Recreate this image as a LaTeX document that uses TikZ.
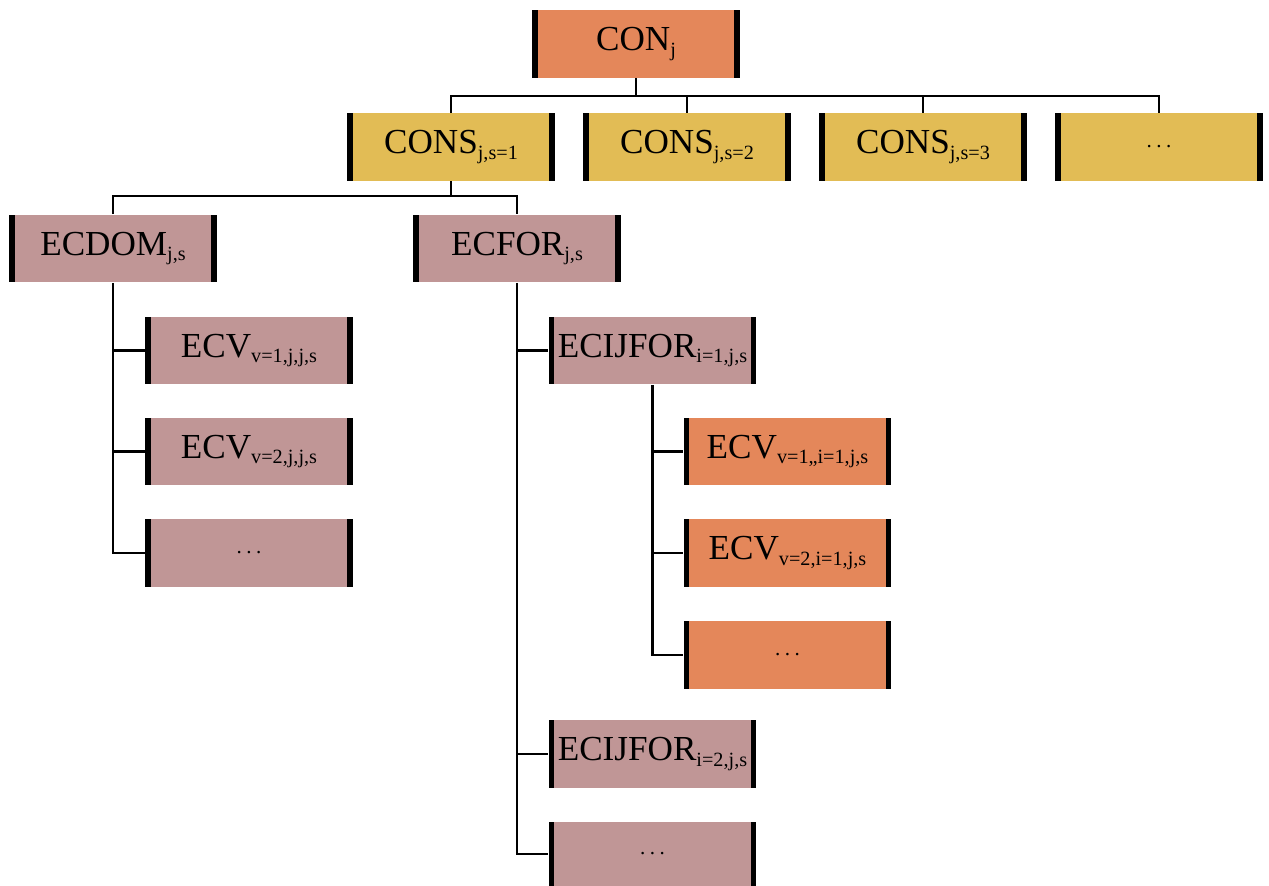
\documentclass[tikz,border=0pt]{standalone}
\usepackage{fontspec}
\setmainfont{Liberation Serif}
\newcommand{\lsub}[1]{\raisebox{-3pt}{\fontsize{11.5}{12}\selectfont #1}}
\newcommand{\mydots}{\raisebox{-1pt}{\fontsize{12}{12}\selectfont .\hspace{2.5pt}.\hspace{2.5pt}.}}
\definecolor{corange}{HTML}{E4875A}
\definecolor{cgold}{HTML}{E2BC55}
\definecolor{cmauve}{HTML}{C09696}
\begin{document}
\begin{tikzpicture}[x=0.02cm,y=-0.02cm,
  box/.style={rectangle, inner sep=0pt, minimum width=4.16cm, minimum height=1.36cm,
    font=\fontsize{20}{24}\selectfont,
    path picture={
      \fill[black] (path picture bounding box.north west) rectangle ([xshift=0.11cm]path picture bounding box.south west);
      \fill[black] ([xshift=-0.11cm]path picture bounding box.north east) rectangle (path picture bounding box.south east);
    }},
  obox/.style={box, fill=corange},
  gbox/.style={box, fill=cgold},
  mbox/.style={box, fill=cmauve},
  conn/.style={line width=1.3pt, black}]
\useasboundingbox (0,0) rectangle (1269,886);

\node[obox] (con) at (636,44) {CON\lsub{j}};

\node[gbox] (cons1) at (451,147) {CONS\lsub{j,s=1}};
\node[gbox] (cons2) at (687,147) {CONS\lsub{j,s=2}};
\node[gbox] (cons3) at (923,147) {CONS\lsub{j,s=3}};
\node[gbox] (cons4) at (1159,147) {\mydots};

\node[mbox] (ecdom) at (113,248.5) {ECDOM\lsub{j,s}};
\node[mbox] (ecfor) at (517,248.5) {ECFOR\lsub{j,s}};

\node[mbox] (ecv1) at (249,350.5) {ECV\lsub{v=1,j,j,s}};
\node[mbox] (ecv2) at (249,451.5) {ECV\lsub{v=2,j,j,s}};
\node[mbox] (ecv3) at (249,553) {\mydots};

\node[mbox] (ecij1) at (652.5,350.5) {ECIJFOR\lsub{i=1,j,s}};
\node[obox] (oecv1) at (787.5,451.5) {ECV\lsub{v=1,,i=1,j,s}};
\node[obox] (oecv2) at (787.5,553) {ECV\lsub{v=2,i=1,j,s}};
\node[obox] (oecv3) at (787.5,655) {\mydots};

\node[mbox] (ecij2) at (652.5,754) {ECIJFOR\lsub{i=2,j,s}};
\node[mbox, minimum height=1.28cm] (ecij3) at (652.5,854) {\mydots};

\coordinate (b1) at (0,96);
\draw[conn] (con.south) -- (con.south |- b1);
\draw[conn] (cons1.north) -- (cons1.north |- b1) -- (cons4.north |- b1) -- (cons4.north);
\draw[conn] (cons2.north) -- (cons2.north |- b1);
\draw[conn] (cons3.north) -- (cons3.north |- b1);

\coordinate (b2) at (0,196);
\draw[conn] (cons1.south) -- (cons1.south |- b2);
\draw[conn] (ecdom.north) -- (ecdom.north |- b2) -- (ecfor.north |- b2) -- (ecfor.north);

\draw[conn] (ecdom.south) |- (ecv3.west);
\draw[conn] (ecdom.south |- ecv1.west) -- (ecv1.west);
\draw[conn] (ecdom.south |- ecv2.west) -- (ecv2.west);

\draw[conn] (ecfor.south) |- (ecij3.west);
\draw[conn] (ecfor.south |- ecij1.west) -- (ecij1.west);
\draw[conn] (ecfor.south |- ecij2.west) -- (ecij2.west);

\draw[conn] (ecij1.south) |- (oecv3.west);
\draw[conn] (ecij1.south |- oecv1.west) -- (oecv1.west);
\draw[conn] (ecij1.south |- oecv2.west) -- (oecv2.west);
\end{tikzpicture}
\end{document}
